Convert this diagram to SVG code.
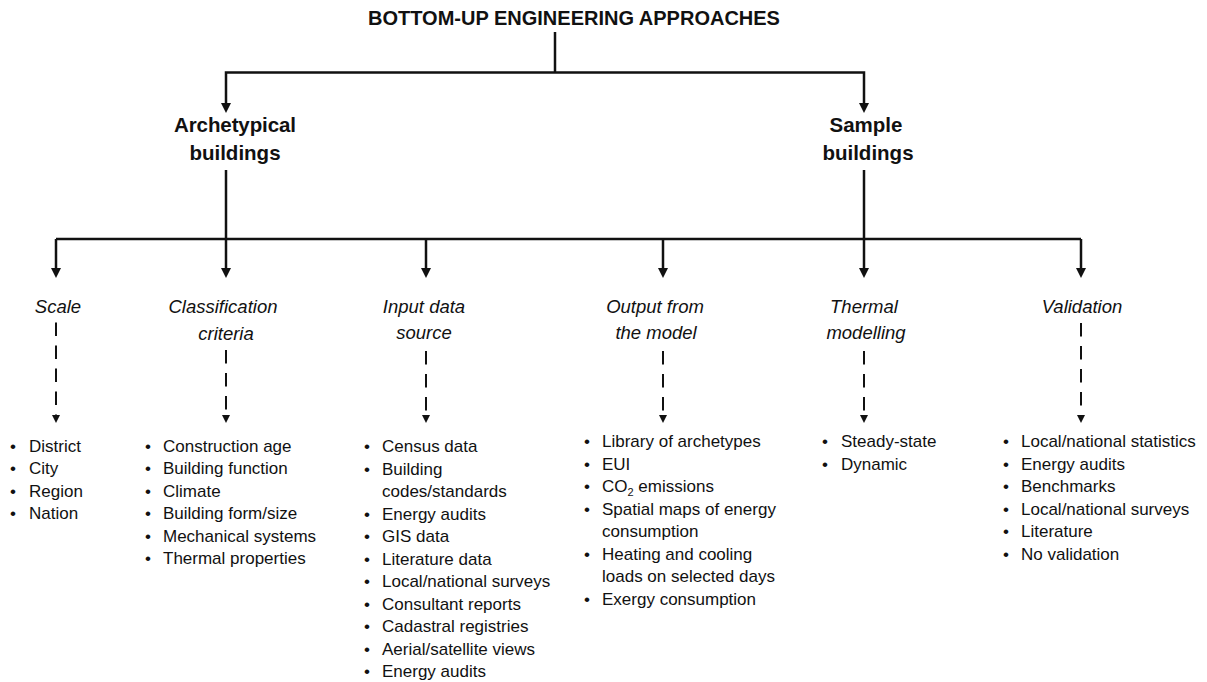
<svg xmlns="http://www.w3.org/2000/svg" width="1207" height="682" viewBox="0 0 1207 682">
<style>
text{font-family:"Liberation Sans",Arial,sans-serif;fill:#111}
.title{font-weight:bold;font-size:20px;text-anchor:middle}
.head{font-weight:bold;font-size:20.5px;text-anchor:middle}
.cat{font-style:italic;font-size:18.5px;text-anchor:middle}
.li{font-size:17px}
.bu{font-size:17px;text-anchor:middle}
.solid{stroke:#111;stroke-width:2.5;fill:none;stroke-linejoin:miter}
.dash{stroke:#111;stroke-width:2;fill:none;stroke-dasharray:13.5 9.5}
</style>
<defs>
<marker id="ah" markerUnits="userSpaceOnUse" markerWidth="10" markerHeight="10" refX="0" refY="5" orient="auto" viewBox="0 0 10 10"><path d="M0,0 L10,5 L0,10 z" fill="#111"/></marker>
<marker id="dh" markerUnits="userSpaceOnUse" markerWidth="8" markerHeight="8" refX="0" refY="4" orient="auto" viewBox="0 0 8 8"><path d="M0,0 L8,4 L0,8 z" fill="#111"/></marker>
</defs>
<rect width="1207" height="682" fill="#fff"/>

<g id="connectors">
<path class="solid" d="M555,32 V72.5"/>
<path class="solid" d="M555,72.5 H226 V103" marker-end="url(#ah)"/>
<path class="solid" d="M555,72.5 H864 V103" marker-end="url(#ah)"/>
<path class="solid" d="M226,170 V239"/>
<path class="solid" d="M864,170 V239"/>
<path class="solid" d="M56,239 H1081"/>
<path class="solid" d="M56,239 V268" marker-end="url(#ah)"/>
<path class="solid" d="M226,239 V268" marker-end="url(#ah)"/>
<path class="solid" d="M426,239 V268" marker-end="url(#ah)"/>
<path class="solid" d="M663,239 V268" marker-end="url(#ah)"/>
<path class="solid" d="M864,239 V268" marker-end="url(#ah)"/>
<path class="solid" d="M1081,239 V268" marker-end="url(#ah)"/>
<path class="dash" d="M56,322.5 V415" marker-end="url(#dh)"/>
<path class="dash" d="M226,350 V415" marker-end="url(#dh)"/>
<path class="dash" d="M426,351 V415" marker-end="url(#dh)"/>
<path class="dash" d="M663,351 V415" marker-end="url(#dh)"/>
<path class="dash" d="M864,351 V415" marker-end="url(#dh)"/>
<path class="dash" d="M1081,323 V415" marker-end="url(#dh)"/>
</g>

<g id="title"><text class="title" x="574" y="25">BOTTOM-UP ENGINEERING APPROACHES</text></g>

<g id="archetypical">
<text class="head" x="235" y="132" textLength="122" lengthAdjust="spacing">Archetypical</text>
<text class="head" x="235" y="160">buildings</text>
</g>
<g id="sample">
<text class="head" x="866" y="132">Sample</text>
<text class="head" x="868" y="160">buildings</text>
</g>

<g id="scale">
<text class="cat" x="58" y="313">Scale</text>
</g>
<g id="classification">
<text class="cat" x="223" y="313">Classification</text>
<text class="cat" x="226" y="340">criteria</text>
</g>
<g id="input">
<text class="cat" x="424" y="313">Input data</text>
<text class="cat" x="424" y="339">source</text>
</g>
<g id="output">
<text class="cat" x="655" y="313">Output from</text>
<text class="cat" x="656" y="339">the model</text>
</g>
<g id="thermal">
<text class="cat" x="864" y="313">Thermal</text>
<text class="cat" x="866" y="339">modelling</text>
</g>
<g id="validation">
<text class="cat" x="1082" y="313">Validation</text>
</g>

<g id="scale-list">
<text class="bu"><tspan x="13" y="452">•</tspan><tspan x="13" y="474.4">•</tspan><tspan x="13" y="496.8">•</tspan><tspan x="13" y="519.2">•</tspan></text>
<text class="li"><tspan x="29" y="452">District</tspan><tspan x="29" y="474.4">City</tspan><tspan x="29" y="496.8">Region</tspan><tspan x="29" y="519.2">Nation</tspan></text>
</g>

<g id="classification-list">
<text class="bu"><tspan x="148" y="452">•</tspan><tspan x="148" y="474.4">•</tspan><tspan x="148" y="496.8">•</tspan><tspan x="148" y="519.2">•</tspan><tspan x="148" y="541.6">•</tspan><tspan x="148" y="564">•</tspan></text>
<text class="li"><tspan x="163" y="452">Construction age</tspan><tspan x="163" y="474.4">Building function</tspan><tspan x="163" y="496.8">Climate</tspan><tspan x="163" y="519.2">Building form/size</tspan><tspan x="163" y="541.6">Mechanical systems</tspan><tspan x="163" y="564">Thermal properties</tspan></text>
</g>

<g id="input-list">
<text class="bu"><tspan x="367" y="452">•</tspan><tspan x="367" y="474.5">•</tspan><tspan x="367" y="519.5">•</tspan><tspan x="367" y="542">•</tspan><tspan x="367" y="564.5">•</tspan><tspan x="367" y="587">•</tspan><tspan x="367" y="609.5">•</tspan><tspan x="367" y="632">•</tspan><tspan x="367" y="654.5">•</tspan><tspan x="367" y="677">•</tspan></text>
<text class="li"><tspan x="382" y="452">Census data</tspan><tspan x="382" y="474.5">Building</tspan><tspan x="382" y="497">codes/standards</tspan><tspan x="382" y="519.5">Energy audits</tspan><tspan x="382" y="542">GIS data</tspan><tspan x="382" y="564.5">Literature data</tspan><tspan x="382" y="587">Local/national surveys</tspan><tspan x="382" y="609.5">Consultant reports</tspan><tspan x="382" y="632">Cadastral registries</tspan><tspan x="382" y="654.5">Aerial/satellite views</tspan><tspan x="382" y="677">Energy audits</tspan></text>
</g>

<g id="output-list">
<text class="bu"><tspan x="587" y="447">•</tspan><tspan x="587" y="469.5">•</tspan><tspan x="587" y="492">•</tspan><tspan x="587" y="514.5">•</tspan><tspan x="587" y="559.5">•</tspan><tspan x="587" y="604.5">•</tspan></text>
<text class="li"><tspan x="602" y="447">Library of archetypes</tspan><tspan x="602" y="469.5">EUI</tspan><tspan x="602" y="492">CO</tspan><tspan font-size="11" dy="4">2</tspan><tspan dy="-4"> emissions</tspan><tspan x="602" y="514.5">Spatial maps of energy</tspan><tspan x="602" y="537">consumption</tspan><tspan x="602" y="559.5">Heating and cooling</tspan><tspan x="602" y="582">loads on selected days</tspan><tspan x="602" y="604.5">Exergy consumption</tspan></text>
</g>

<g id="thermal-list">
<text class="bu"><tspan x="825" y="447">•</tspan><tspan x="825" y="469.5">•</tspan></text>
<text class="li"><tspan x="841" y="447">Steady-state</tspan><tspan x="841" y="469.5">Dynamic</tspan></text>
</g>

<g id="validation-list">
<text class="bu"><tspan x="1006" y="447">•</tspan><tspan x="1006" y="469.5">•</tspan><tspan x="1006" y="492">•</tspan><tspan x="1006" y="514.5">•</tspan><tspan x="1006" y="537">•</tspan><tspan x="1006" y="559.5">•</tspan></text>
<text class="li"><tspan x="1021" y="447">Local/national statistics</tspan><tspan x="1021" y="469.5">Energy audits</tspan><tspan x="1021" y="492">Benchmarks</tspan><tspan x="1021" y="514.5">Local/national surveys</tspan><tspan x="1021" y="537">Literature</tspan><tspan x="1021" y="559.5">No validation</tspan></text>
</g>
</svg>
